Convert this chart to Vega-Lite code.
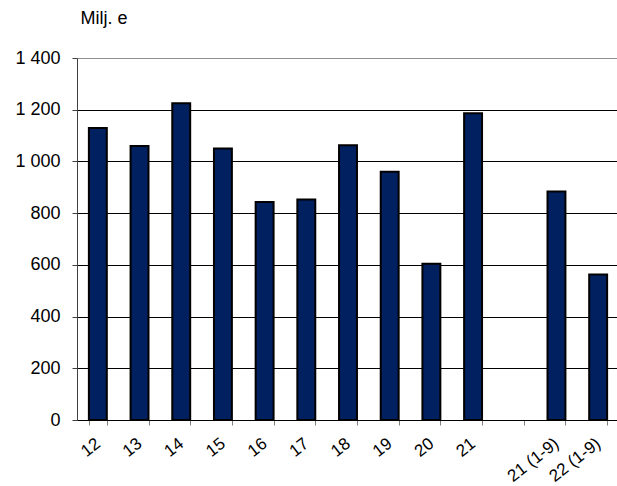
{
  "$schema": "https://vega.github.io/schema/vega-lite/v6.json",
  "width": 542,
  "height": 362,
  "autosize": "none",
  "padding": {"left": 77, "top": 58, "right": 0, "bottom": 66},
  "background": "white",
  "config": {
    "view": {"stroke": null},
    "font": "Liberation Sans",
    "axis": {"labelFont": "Liberation Sans", "titleFont": "Liberation Sans", "labelColor": "#000", "titleColor": "#000"}
  },
  "data": {
    "values": [
      {"year": "12", "value": 1129},
      {"year": "13", "value": 1060},
      {"year": "14", "value": 1225},
      {"year": "15", "value": 1050},
      {"year": "16", "value": 843},
      {"year": "17", "value": 853},
      {"year": "18", "value": 1063},
      {"year": "19", "value": 960},
      {"year": "20", "value": 604},
      {"year": "21", "value": 1186},
      {"year": "21 (1-9)", "value": 884},
      {"year": "22 (1-9)", "value": 563}
    ]
  },
  "mark": {"type": "bar", "fill": "#002060", "stroke": "#000", "strokeWidth": 2},
  "encoding": {
    "x": {
      "field": "year",
      "type": "ordinal",
      "scale": {
        "domain": ["12", "13", "14", "15", "16", "17", "18", "19", "20", "21", " ", "21 (1-9)", "22 (1-9)"],
        "paddingInner": 0.57,
        "paddingOuter": 0.285
      },
      "axis": {
        "title": null,
        "labelAngle": -38,
        "labelAlign": "right",
        "labelBaseline": "top",
        "labelFontSize": 17,
        "labelOffset": -5,
        "tickBand": "extent",
        "tickSize": 5,
        "tickColor": "#808080",
        "domainColor": "#000",
        "labelPadding": 10
      }
    },
    "y": {
      "field": "value",
      "type": "quantitative",
      "scale": {"domain": [0, 1400]},
      "axis": {
        "values": [0, 200, 400, 600, 800, 1000, 1200, 1400],
        "labelExpr": "replace(format(datum.value, ','), ',', ' ')",
        "labelFontSize": 18,
        "labelPadding": 12,
        "tickSize": 5,
        "tickColor": "#404040",
        "domainColor": "#404040",
        "grid": true,
        "gridColor": {"condition": {"test": "datum.value === 1400", "value": "#909090"}, "value": "#000"},
        "gridWidth": 1,
        "title": "Milj. e",
        "titleAngle": 0,
        "titleAlign": "left",
        "titleBaseline": "alphabetic",
        "titleX": 3,
        "titleY": -35,
        "titleFontSize": 18,
        "titleFontWeight": "normal"
      }
    }
  }
}
